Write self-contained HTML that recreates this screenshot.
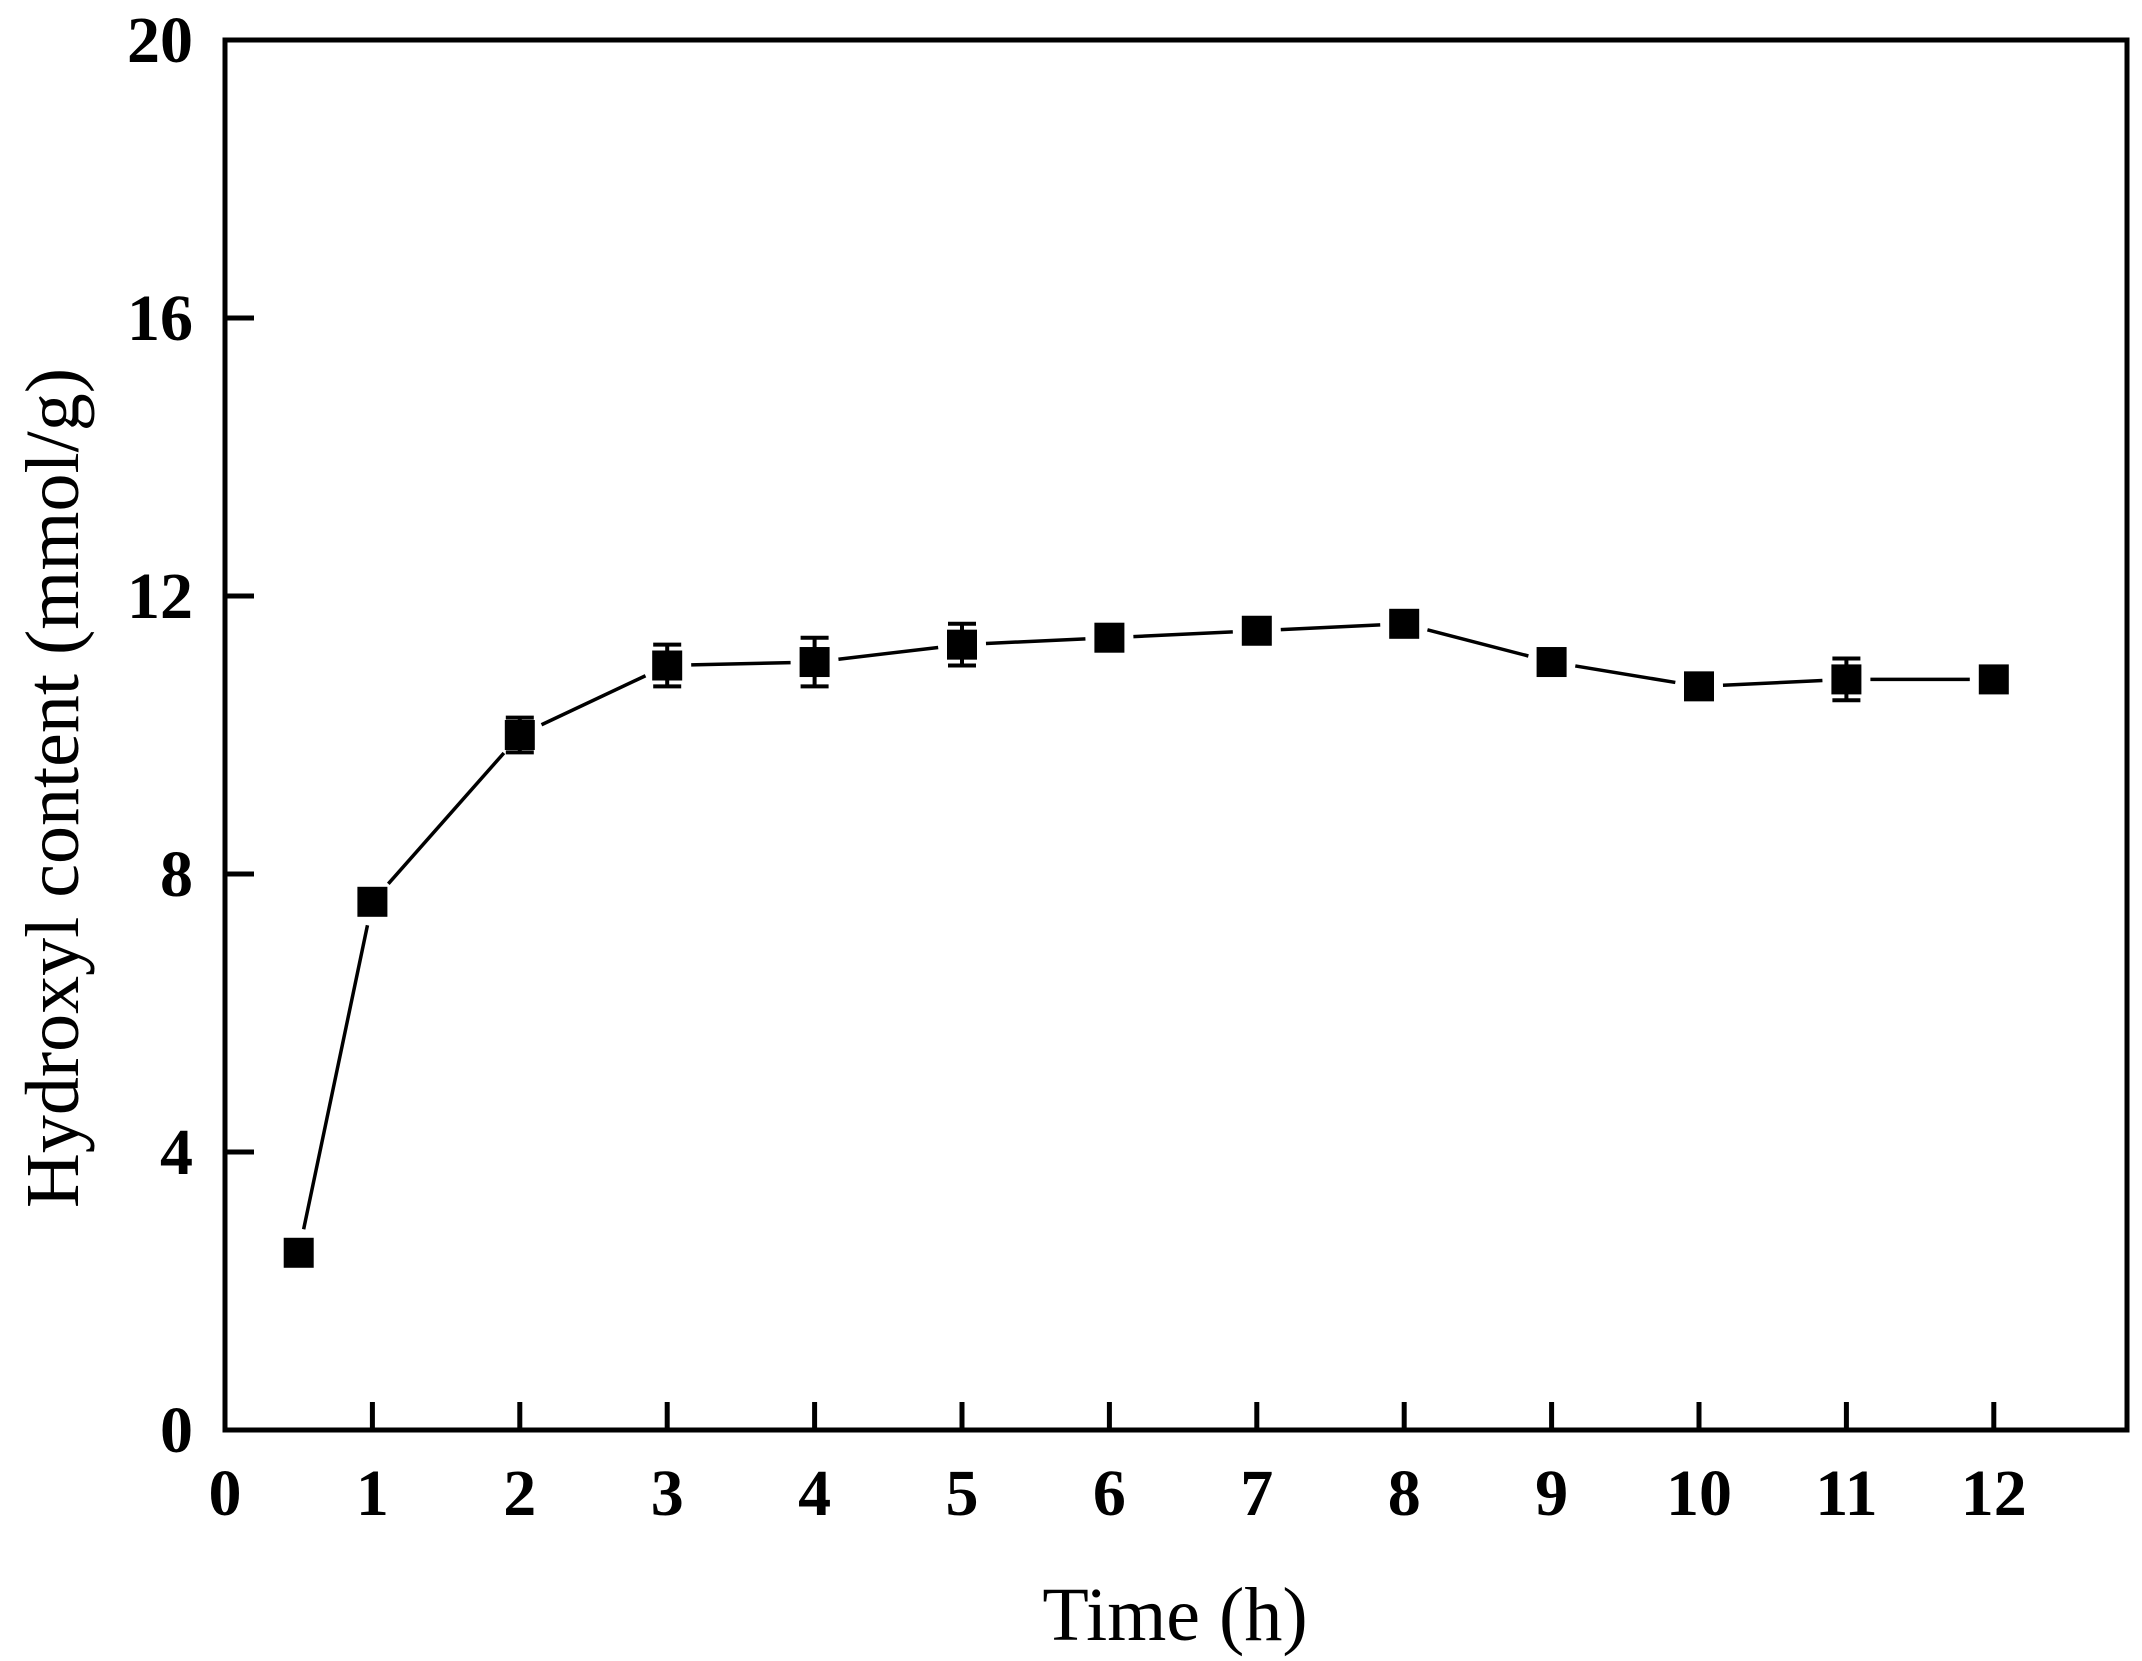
<!DOCTYPE html>
<html><head><meta charset="utf-8"><style>
html,body{margin:0;padding:0;background:#fff}
svg{display:block}
text{font-family:"Liberation Serif",serif;fill:#000}
</style></head><body>
<svg id="chart" width="2142" height="1661">
<g id="axes"></g><g id="series"></g>
</svg>
<script>
const xValues=[0.5,1,2,3,4,5,6,7,8,9,10,11,12];
const yValues=[2.55,7.6,10.0,11.0,11.05,11.3,11.4,11.5,11.6,11.05,10.7,10.8,10.8];
const yErrors=[0.1,0.1,0.25,0.3,0.35,0.3,0.12,0.12,0.12,0.12,0.12,0.3,0.12];
const xTicks=[0,1,2,3,4,5,6,7,8,9,10,11,12];
const yTicks=[0,4,8,12,16,20];
const NS="http://www.w3.org/2000/svg";
const L=225,R=2127,T=40,B=1430;
const sx=v=>225+v*147.4;
const sy=v=>1430-v*69.5;
const axes=document.getElementById('axes'),ser=document.getElementById('series');
function mk(p,tag,at){const e=document.createElementNS(NS,tag);for(const k in at)e.setAttribute(k,at[k]);p.appendChild(e);return e;}
let fr=mk(axes,'rect',{x:L,y:T,width:R-L,height:B-T,fill:'none',stroke:'#000','stroke-width':5});


xTicks.forEach(v=>{
 let t=mk(axes,'line',{x1:sx(v),x2:sx(v),y1:B,y2:B-28,stroke:'#000','stroke-width':5});
 
 
 let tx=mk(axes,'text',{x:sx(v),y:1515,'text-anchor':'middle','font-size':66,'font-weight':'bold'});
 tx.textContent=v;
 
 
});
yTicks.forEach(v=>{
 let t=mk(axes,'line',{x1:L,x2:L+29,y1:sy(v),y2:sy(v),stroke:'#000','stroke-width':5});
 
 
 let tx=mk(axes,'text',{x:193,y:sy(v)+22,'text-anchor':'end','font-size':66,'font-weight':'bold'});
 tx.textContent=v;
 
 
});
let xt=mk(axes,'text',{x:1175,y:1640,'text-anchor':'middle','font-size':76});
xt.textContent='Time (h)';


let yt=mk(axes,'text',{x:0,y:0,'text-anchor':'middle','font-size':76,transform:'translate(78,788) rotate(-90)'});
yt.textContent='Hydroxyl content (mmol/g)';


for(let i=0;i<xValues.length-1;i++){
 const x1=sx(xValues[i]),y1=sy(yValues[i]),x2=sx(xValues[i+1]),y2=sy(yValues[i+1]);
 const d=Math.hypot(x2-x1,y2-y1),g=24,ux=(x2-x1)/d,uy=(y2-y1)/d;
 let s=mk(ser,'line',{x1:x1+ux*g,y1:y1+uy*g,x2:x2-ux*g,y2:y2-uy*g,stroke:'#000','stroke-width':3.5});
 
 
}
xValues.forEach((xv,i)=>{
 const cx=sx(xv),cy=sy(yValues[i]),e=yErrors[i];
 const top=sy(yValues[i]+e),bot=sy(yValues[i]-e);
 let eb=mk(ser,'path',{d:`M${cx},${top}V${bot}M${cx-14},${top}H${cx+14}M${cx-14},${bot}H${cx+14}`,stroke:'#000','stroke-width':4,fill:'none'});
 
 
 let m=mk(ser,'rect',{x:cx-15,y:cy-15,width:30,height:30,fill:'#000'});
 
 
});
</script>
</body></html>
